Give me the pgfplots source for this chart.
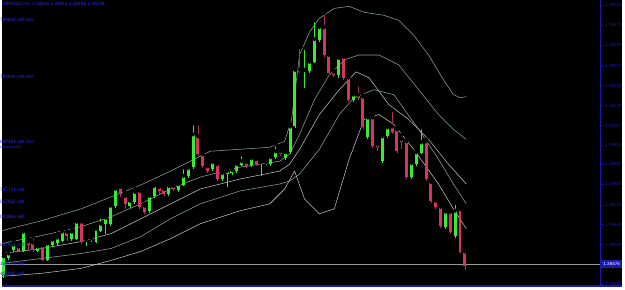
\documentclass[border=0pt]{standalone}
\usepackage{pgfplots}
\usepackage{pgfplotstable}
\pgfplotsset{compat=1.18}
\usepackage{fontspec}
\setmainfont{Liberation Sans}
\definecolor{cg}{HTML}{33EE33}
\definecolor{cr}{HTML}{D8345F}
\definecolor{crw}{HTML}{B02E50}
\definecolor{bandg}{HTML}{86A886}
\definecolor{bandw}{HTML}{C0C0C0}
\definecolor{axb}{HTML}{1A1AB0}
\definecolor{txb}{HTML}{2A2AF0}

% candle tables: index, body top, body bottom, wick top, wick bottom (chart y, downward)
\pgfplotstableread{
i bt bb wt wb
0 258 277 255 280
1 255 260 252 262
2 246 251 242 253
4 233 252 230 253
7 248 252 246 254
9 245 262 243 263
10 241 246 239 248
11 239 244 235 247
12 233 242 231 243
14 233 240 230 242
15 223 240 220 241
17 241 242 239 247
18 240 241 238 243
19 230 243 228 244
20 225 232 218 233
21 219 225 217 235
22 207 225 205 227
23 190 207 188 209
26 202 207 200 209
27 193 203 190 205
30 197 212 195 214
31 187 197 185 199
34 187 195 185 197
36 185 191 183 193
37 177 186 168 187
38 169 177 167 179
39 135 168 124 170
43 163 170 161 172
45 174 180 172 182
46 172 175 170 188
47 171 174 169 176
48 165 172 163 174
49 162 166 155 167
51 159 166 157 168
53 163 164 162 177
54 163 164 161 166
55 158 165 156 167
56 152 158 145 160
58 153 159 151 161
59 127 153 125 155
60 70 127 68 129
62 70 71 48 88
63 62 71 60 73
64 39 62 20 63
65 27 40 25 42
69 58 75 57 78
72 95 100 93 102
75 118 138 116 140
78 137 162 135 164
79 128 137 126 139
84 164 178 162 180
85 153 165 151 167
86 143 154 128 155
91 213 228 211 230
93 212 237 204 239
}\bull
\pgfplotstableread{
i bt bb wt wb
3 248 252 246 254
5 243 246 240 252
6 244 251 238 253
8 247 262 245 263
13 233 237 232 242
16 223 243 221 245
24 188 195 186 198
25 197 205 193 210
28 192 208 190 210
29 207 213 205 215
32 188 192 186 195
33 190 195 188 197
35 187 190 185 192
40 137 155 124 157
41 155 167 153 169
42 167 172 165 174
44 165 180 163 182
50 163 167 161 169
52 160 165 158 167
57 152 155 150 157
61 70 72 47 73
66 27 55 13 57
67 55 73 53 75
68 72 75 70 77
70 57 78 55 80
71 78 100 76 102
73 95 98 85 100
74 97 128 95 130
76 118 147 116 149
77 145 148 140 152
80 127 133 110 135
81 130 152 128 154
82 140 143 135 150
83 142 178 140 180
87 142 180 140 182
88 183 202 181 204
89 202 208 198 210
90 208 227 206 229
92 213 233 211 235
94 210 253 208 255
95 253 268 251 272
}\bear

\begin{document}
\begin{tikzpicture}[x=1bp,y=1bp]
\fill[black] (0,0) rectangle (625,289);
\begin{axis}[at={(0,0)}, anchor=south west, scale only axis,
  width=603bp, height=289bp,
  xmin=0, xmax=603, ymin=0, ymax=289, y dir=reverse,
  axis x line=none, axis y line*=right,
  axis line style={axb, line width=0.8bp},
  tick align=outside, major tick length=3bp,
  tick style={axb, line width=0.6bp},
  ytick={5,25,45,66,86,106,126,146,165,185,206,226,246,286},
  yticklabels={1.39553,1.39470,1.39390,1.39307,1.39224,1.39138,1.39057,1.38974,1.38887,1.38805,1.38723,1.38639,1.38559,1.38389},
  yticklabel style={font=\fontsize{4.6}{5}\selectfont, text=axb, xshift=-1.5bp},
  clip=true]

% current price line
\addplot[gray!80, line width=0.6bp] coordinates {(0,266) (603,266)};

% bands
\addplot[bandg, line width=0.55bp] coordinates {(0,232) (40,222) (80,210) (110,198) (140,186) (170,172) (190,162) (210,152) (240,150) (270,148) (285,142) (292,120) (300,55) (310,32) (320,18) (335,8) (350,6) (365,12) (385,15) (400,20) (415,35) (430,55) (445,80) (455,95) (462,98) (468,97)};
\addplot[bandg, line width=0.55bp] coordinates {(0,245) (40,237) (80,228) (110,218) (140,205) (170,190) (200,178) (240,168) (280,162) (290,155) (300,135) (315,100) (330,75) (345,60) (360,55) (380,55) (400,65) (420,90) (440,115) (455,130) (468,140)};
\addplot[bandw, line width=0.55bp] coordinates {(0,255) (40,250) (80,243) (110,235) (140,220) (170,205) (200,190) (240,180) (280,172) (290,165) (300,150) (320,115) (340,90) (357,72) (370,78) (390,105) (410,120) (430,140) (450,165) (468,185)};
\addplot[bandg, line width=0.55bp] coordinates {(0,265) (40,260) (80,255) (110,250) (140,238) (170,220) (200,205) (240,192) (280,185) (290,182) (300,175) (320,150) (340,115) (355,98) (375,90) (395,95) (420,130) (440,160) (455,185) (468,205)};
\addplot[bandw, line width=0.55bp] coordinates {(0,278) (40,275) (80,270) (110,262) (140,253) (170,240) (200,225) (240,212) (270,205) (285,190) (295,172) (305,200) (320,215) (335,210) (350,160) (365,120) (380,115) (395,125) (415,150) (440,185) (455,210) (468,230)};

% wicks
\addplot[only marks, mark=none, error bars/.cd, y dir=plus, y explicit, error mark=none,
  error bar style={cg, line width=0.7bp}]
  table[x expr=2+4.89*\thisrow{i}, y=wt, y error expr=\thisrow{wb}-\thisrow{wt}] {\bull};
\addplot[only marks, mark=none, error bars/.cd, y dir=plus, y explicit, error mark=none,
  error bar style={crw, line width=0.7bp}]
  table[x expr=2+4.89*\thisrow{i}, y=wt, y error expr=\thisrow{wb}-\thisrow{wt}] {\bear};
% bodies
\addplot[only marks, mark=none, error bars/.cd, y dir=plus, y explicit, error mark=none,
  error bar style={cg, line width=3bp}]
  table[x expr=2+4.89*\thisrow{i}, y=bt, y error expr=\thisrow{bb}-\thisrow{bt}] {\bull};
\addplot[only marks, mark=none, error bars/.cd, y dir=plus, y explicit, error mark=none,
  error bar style={cr, line width=3bp}]
  table[x expr=2+4.89*\thisrow{i}, y=bt, y error expr=\thisrow{bb}-\thisrow{bt}] {\bear};
\end{axis}

% bottom line
\draw[axb, line width=2bp] (0,1.5) -- (625,1.5);
% current price marker
\fill[axb] (603,19) rectangle (625,27);
\node[anchor=west, inner sep=0pt, text=white, font=\fontsize{4.6}{5}\selectfont] at (606,23) {1.38476};

% texts
\begin{scope}[every node/.style={anchor=west, inner sep=0pt, text=txb, font=\fontsize{4.8}{5.5}\selectfont}]
\node at (0,285) {GBPUSD,H1 \ 1.38516 1.38516 1.38496 1.38508};
\node at (-2,269) {789832 sell limit};
\node at (-2,212) {789916 sell limit};
\node at (-2,147) {880493 sell limit};
\node[font=\fontsize{3.8}{4}\selectfont] at (-2,141) {removed DN};
\node at (-2,98) {797714 sell};
\node at (-2,86) {517862 sell};
\node at (-2,71) {000865 sell};
\node at (-2,43) {857914 sell};
\node at (-2,24) {165579 sell};
\node at (-2,14) {465895 sell};
\end{scope}
\end{tikzpicture}
\end{document}
